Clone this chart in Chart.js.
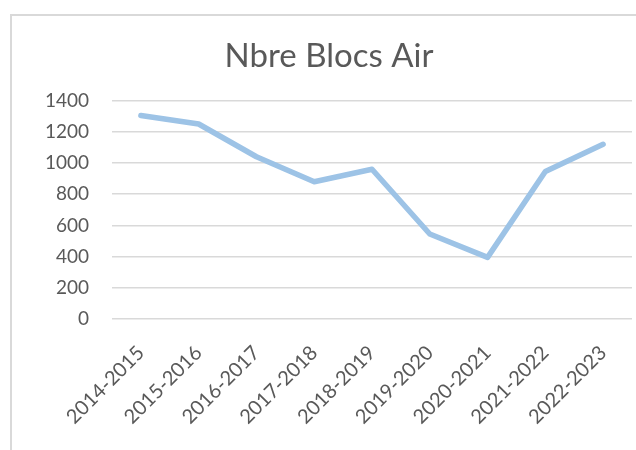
<!DOCTYPE html>
<html>
<head>
<meta charset="utf-8">
<script src="https://cdn.jsdelivr.net/npm/chart.js@4/dist/chart.umd.min.js"></script>
<style>
    html, body { margin: 0; padding: 0; background: #fff; overflow: hidden; }
    #cadre { position: absolute; left: 10px; top: 14px; width: 640px; height: 450px;
             border-left: 2px solid #d9d9d9; border-top: 2px solid #d9d9d9; }
    #wrap { position: absolute; left: 0; top: 0; width: 658px; height: 450px; }
</style>
</head>
<body>
<div id="cadre"></div>
<div id="wrap"><canvas id="blocsChart" width="658" height="450"></canvas></div>
<script>
const saisons = ["2014-2015", "2015-2016", "2016-2017", "2017-2018", "2018-2019",
                 "2019-2020", "2020-2021", "2021-2022", "2022-2023"];
const nbreBlocs = [1305, 1250, 1040, 880, 960, 545, 395, 945, 1120];
const titre = "Nbre Blocs Air";

const police = "Lato, 'Open Sans', sans-serif";
const gris = "#595959";

// le cadre Excel depasse a droite : canvas plus large que la fenetre
const ctx = document.getElementById("blocsChart").getContext("2d");
new Chart(ctx, {
    type: "line",
    data: {
        labels: saisons,
        datasets: [{
            data: nbreBlocs,
            borderColor: "#9dc3e6",
            borderWidth: 5.5,
            pointRadius: 0,
            tension: 0,
            borderCapStyle: "round",
            borderJoinStyle: "round"
        }]
    },
    options: {
        responsive: false,
        animation: false,
        layout: { padding: 0 },
        plugins: {
            legend: { display: false },
            tooltip: { enabled: false },
            title: {
                display: true,
                text: titre,
                color: gris,
                font: { family: police, size: 33, weight: "normal" },
                padding: { top: 37, bottom: 24 }
            }
        },
        scales: {
            x: {
                offset: true,
                grid: { display: false, drawTicks: false },
                border: { display: false },
                ticks: {
                    color: gris,
                    font: { family: police, size: 20 },
                    minRotation: 45,
                    maxRotation: 45,
                    padding: 22
                },
                afterFit: function (scale) {
                    scale.height = 131;
                    scale.paddingLeft = 0;
                    scale.paddingRight = 26;
                }
            },
            y: {
                min: 0,
                max: 1400,
                grid: { color: "#d9d9d9", lineWidth: 1.5, drawTicks: false },
                border: { display: false },
                ticks: {
                    stepSize: 200,
                    color: gris,
                    font: { family: police, size: 19 },
                    padding: 23,
                    callback: function (v) { return String(v); }
                },
                afterFit: function (scale) { scale.width = 112; }
            }
        }
    }
});
</script>
</body>
</html>
